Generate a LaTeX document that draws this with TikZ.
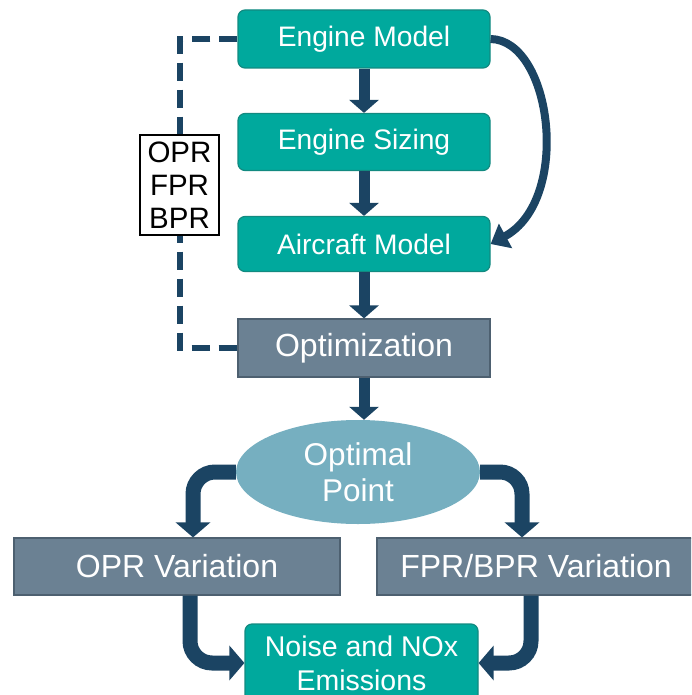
\documentclass[tikz,border=0pt]{standalone}
\usepackage{fontspec}
\setmainfont{Liberation Sans}
\usetikzlibrary{arrows.meta,shapes.geometric}
\definecolor{teal1}{HTML}{00A99D}
\definecolor{teal2}{HTML}{128A80}
\definecolor{gray1}{HTML}{6B8193}
\definecolor{gray2}{HTML}{4D6070}
\definecolor{ell}{HTML}{76AFC0}
\definecolor{navy}{HTML}{1B4463}
\tikzset{
  tealbox/.style={draw=teal2, line width=1.2pt, fill=teal1, rounded corners=7pt, text=white, minimum width=252pt, align=center, inner sep=0pt},
  graybox/.style={draw=gray2, line width=1.2pt, fill=gray1, text=white, align=center, inner sep=0pt},
  arr/.style={draw=navy, line width=11pt, -{Triangle[width=29pt,length=13pt]}},
  elb/.style={draw=navy, line width=15pt, rounded corners=22pt, -{Triangle[width=34pt,length=15pt]}},
  carr/.style={draw=navy, line width=8pt, -{Triangle[width=27pt,length=17pt]}},
  dashline/.style={draw=navy, line width=6pt, dash pattern=on 18pt off 9pt},
}
\begin{document}
\begin{tikzpicture}[x=1pt,y=-1pt]
\useasboundingbox (0,0) rectangle (691,695);
\clip (0,0) rectangle (691,695);
% nodes
\node[tealbox, minimum height=58pt, font=\fontsize{28.2}{33}\selectfont] (em) at (364,39) {Engine Model};
\node[tealbox, minimum height=57pt, font=\fontsize{28.2}{33}\selectfont] (es) at (364,142) {Engine Sizing};
\node[tealbox, minimum height=55pt, font=\fontsize{28.2}{33}\selectfont] (am) at (364,244) {Aircraft Model};
\node[graybox, minimum width=252pt, minimum height=58pt, font=\fontsize{32}{36}\selectfont] (opt) at (364,348) {Optimization};
\node[ellipse, fill=ell, text=white, minimum width=244pt, minimum height=104pt, inner sep=0pt, align=center, font=\fontsize{31.5}{36}\selectfont] (op) at (358,472) {Optimal\\Point};
\node[graybox, minimum width=326pt, minimum height=57pt, font=\fontsize{32}{36}\selectfont] (oprv) at (177,566.5) {OPR Variation};
\node[graybox, minimum width=318pt, minimum height=57pt, font=\fontsize{32}{36}\selectfont] (fprv) at (536,566.5) {FPR/BPR Variation};
\node[tealbox, minimum width=233pt, minimum height=78pt, font=\fontsize{28.5}{34}\selectfont] (noise) at (361.5,663) {Noise and NOx\\Emissions};
% dashed feedback
\coordinate (c) at (180,348);
\draw[dashline] (em.west) -| (c) -- (opt.west);
\node[draw=black, line width=1.2pt, fill=white, minimum width=79pt, minimum height=100pt, inner sep=0pt, align=center, font=\fontsize{29.5}{33}\selectfont] (params) at (179.5,185) {OPR\\FPR\\BPR};
% arrows
\draw[arr] (em.south) -- (es.north);
\draw[arr] (es.south) -- (am.north);
\draw[arr] (am.south) -- (opt.north);
\draw[arr] (opt.south) -- (opt.south |- op.north);
\draw[carr] (em.east) .. controls (552,40) and (572,200) .. (am.east);
\draw[elb] (op.west) -| ([xshift=16pt]oprv.north);
\draw[elb] (op.east) -| ([xshift=-14pt]fprv.north);
\draw[elb] ([xshift=13pt]oprv.south) |- (noise.west);
\draw[elb] ([xshift=-5pt]fprv.south) |- (noise.east);
\end{tikzpicture}
\end{document}
